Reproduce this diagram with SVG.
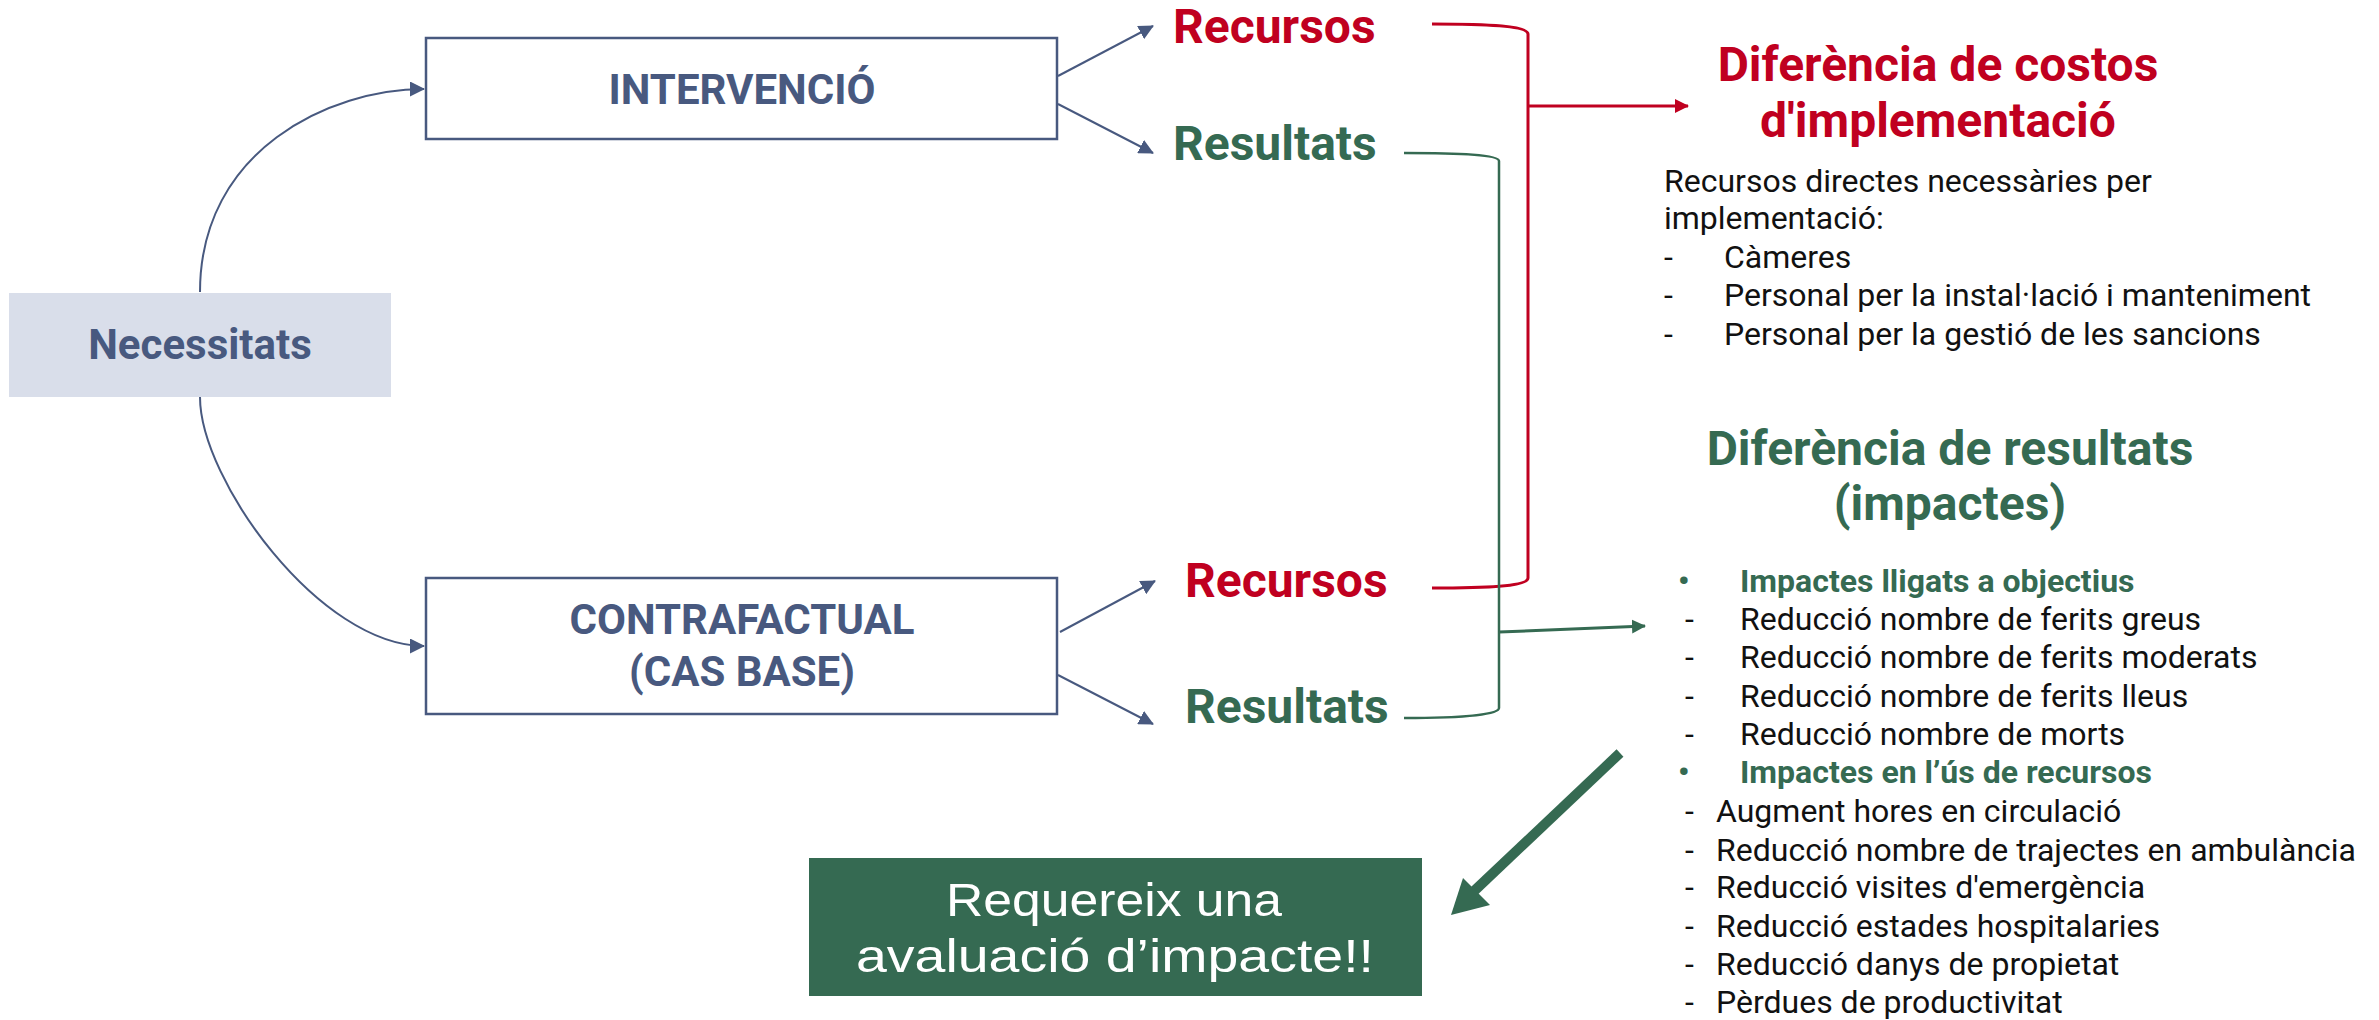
<svg xmlns="http://www.w3.org/2000/svg" width="2379" height="1020" viewBox="0 0 2379 1020">
<defs>
<style>
.node{fill:#fff;stroke:#48597F;stroke-width:2.5}
.nlab{font-family:Roboto,"Liberation Sans",sans-serif;font-weight:bold;fill:#48597F;font-size:42px;text-anchor:middle}
.red{fill:#C00020}
.grn{fill:#356A52}
.big{font-family:Roboto,"Liberation Sans",sans-serif;font-weight:bold;font-size:48px}
.title{font-family:Roboto,"Liberation Sans",sans-serif;font-weight:bold;font-size:48px;text-anchor:middle}
.body{font-family:Roboto,"Liberation Sans",sans-serif;font-size:32px;fill:#111}
.sub{font-family:Roboto,"Liberation Sans",sans-serif;font-weight:bold;font-size:32px;fill:#356A52}
.blue{fill:none;stroke:#48597F;stroke-width:2}
.box{font-family:"Liberation Sans",Arial,sans-serif;font-size:46px;fill:#fff;text-anchor:middle}
</style>
<marker id="abb" markerWidth="15" markerHeight="15" refX="14" refY="7.5" orient="auto" markerUnits="userSpaceOnUse" viewBox="0 0 15 15"><path d="M0,0 L15,7.5 L0,15 z" fill="#48597F"/></marker>
<marker id="ar" markerWidth="14" markerHeight="14" refX="13" refY="7" orient="auto" markerUnits="userSpaceOnUse" viewBox="0 0 14 14"><path d="M0,0 L14,7 L0,14 z" fill="#C00020"/></marker>
<marker id="ag" markerWidth="14" markerHeight="14" refX="13" refY="7" orient="auto" markerUnits="userSpaceOnUse" viewBox="0 0 14 14"><path d="M0,0 L14,7 L0,14 z" fill="#356A52"/></marker>
</defs>
<rect width="2379" height="1020" fill="#fff"/>

<g id="connectors">
<path class="blue" d="M200,292 C200,150 330,89 424,89" marker-end="url(#abb)"/>
<path class="blue" d="M200,397 C200,480 320,646 424,646" marker-end="url(#abb)"/>
<path class="blue" d="M1058,76 L1153,26" marker-end="url(#abb)"/>
<path class="blue" d="M1058,104 L1153,153" marker-end="url(#abb)"/>
<path class="blue" d="M1060,632 L1155,581" marker-end="url(#abb)"/>
<path class="blue" d="M1058,675 L1153,724" marker-end="url(#abb)"/>
<path d="M1432,24 C1490,24 1528,26 1528,34 V578 C1528,586 1490,588 1432,588" fill="none" stroke="#C00020" stroke-width="3"/>
<path d="M1528,106 H1688" fill="none" stroke="#C00020" stroke-width="3" marker-end="url(#ar)"/>
<path d="M1404,153 C1460,153 1499,155 1499,161 V708 C1499,715 1460,718 1404,718" fill="none" stroke="#356A52" stroke-width="2.5"/>
<path d="M1499,632 L1645,626" fill="none" stroke="#356A52" stroke-width="3" marker-end="url(#ag)"/>
<path d="M1620,753 L1472,893" fill="none" stroke="#356A52" stroke-width="10"/>
<path d="M1451,915 L1463,878 L1490,905 z" fill="#356A52"/>
</g>

<g id="necessitats">
<rect x="9" y="293" width="382" height="104" fill="#D9DEEA"/>
<text class="nlab" x="200" y="359">Necessitats</text>
</g>

<g id="intervencio">
<rect class="node" x="426" y="38" width="631" height="101"/>
<text class="nlab" x="742" y="104">INTERVENCIÓ</text>
</g>

<g id="contrafactual">
<rect class="node" x="426" y="578" width="631" height="136"/>
<text class="nlab" x="742" y="634">CONTRAFACTUAL</text>
<text class="nlab" x="742" y="686">(CAS BASE)</text>
</g>

<g id="recursos-int"><text class="big red" x="1173" y="43">Recursos</text></g>
<g id="resultats-int"><text class="big grn" x="1173" y="160">Resultats</text></g>
<g id="recursos-cf"><text class="big red" x="1185" y="597">Recursos</text></g>
<g id="resultats-cf"><text class="big grn" x="1185" y="723">Resultats</text></g>

<g id="dif-costos">
<text class="title red" x="1938" y="81">Diferència de costos</text>
<text class="title red" x="1938" y="137">d'implementació</text>
<text class="body" x="1664" y="192">Recursos directes necessàries per</text>
<text class="body" x="1664" y="229">implementació:</text>
<text class="body" x="1664" y="268">-</text><text class="body" x="1724" y="268">Càmeres</text>
<text class="body" x="1664" y="306">-</text><text class="body" x="1724" y="306">Personal per la instal·lació i manteniment</text>
<text class="body" x="1664" y="345">-</text><text class="body" x="1724" y="345">Personal per la gestió de les sancions</text>
</g>

<g id="dif-resultats">
<text class="title grn" x="1950" y="465">Diferència de resultats</text>
<text class="title grn" x="1950" y="520">(impactes)</text>
<text class="sub" x="1678" y="592">•</text><text class="sub" x="1740" y="592">Impactes lligats a objectius</text>
<text class="body" x="1685" y="630">-</text><text class="body" x="1740" y="630">Reducció nombre de ferits greus</text>
<text class="body" x="1685" y="668">-</text><text class="body" x="1740" y="668">Reducció nombre de ferits moderats</text>
<text class="body" x="1685" y="707">-</text><text class="body" x="1740" y="707">Reducció nombre de ferits lleus</text>
<text class="body" x="1685" y="745">-</text><text class="body" x="1740" y="745">Reducció nombre de morts</text>
<text class="sub" x="1678" y="783">•</text><text class="sub" x="1740" y="783">Impactes en l’ús de recursos</text>
<text class="body" x="1685" y="822">-</text><text class="body" x="1716" y="822">Augment hores en circulació</text>
<text class="body" x="1685" y="861">-</text><text class="body" x="1716" y="861">Reducció nombre de trajectes en ambulància</text>
<text class="body" x="1685" y="898">-</text><text class="body" x="1716" y="898">Reducció visites d'emergència</text>
<text class="body" x="1685" y="937">-</text><text class="body" x="1716" y="937">Reducció estades hospitalaries</text>
<text class="body" x="1685" y="975">-</text><text class="body" x="1716" y="975">Reducció danys de propietat</text>
<text class="body" x="1685" y="1013">-</text><text class="body" x="1716" y="1013">Pèrdues de productivitat</text>
</g>

<g id="avaluacio">
<rect x="809" y="858" width="613" height="138" fill="#356A52"/>
<text class="box" x="1114" y="916" textLength="336" lengthAdjust="spacingAndGlyphs">Requereix una</text>
<text class="box" x="1115" y="972" textLength="518" lengthAdjust="spacingAndGlyphs">avaluació d’impacte!!</text>
</g>
</svg>
